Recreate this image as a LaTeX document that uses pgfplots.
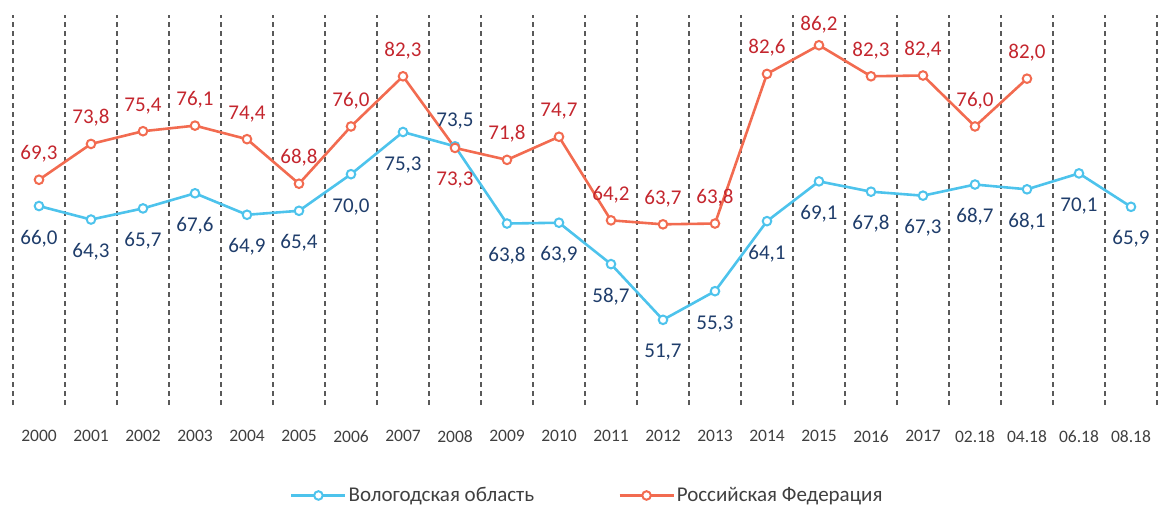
\documentclass[border=0pt]{standalone}
\usepackage{pgfplots}
\pgfplotsset{compat=1.18}
\usepackage{fontspec}
\setmainfont{Carlito}
\definecolor{lblue}{HTML}{4DC3EC}
\definecolor{lred}{HTML}{F26B50}
\definecolor{navy}{HTML}{1F3D6B}
\definecolor{dred}{HTML}{C4262E}
\definecolor{txt}{HTML}{404040}
\definecolor{gridc}{HTML}{595959}
\begin{document}
\begin{tikzpicture}
\useasboundingbox (0,0) rectangle (1159bp,508bp);
\begin{axis}[
  at={(13bp,103bp)}, anchor=south west,
  scale only axis, width=1144bp, height=390bp,
  xmin=-0.5, xmax=21.5, ymin=41, ymax=90,
  axis line style={draw=none},
  ytick=\empty,
  xtick={0,1,...,21},
  xticklabels={2000,2001,2002,2003,2004,2005,2006,2007,2008,2009,2010,2011,2012,2013,2014,2015,2016,2017,02.18,04.18,06.18,08.18},
  minor xtick={-0.5,0.5,...,21.5},
  xminorgrids,
  minor grid style={gridc, line width=1.1bp, dash pattern=on 5bp off 4bp},
  major tick length=0, minor tick length=0,
  xticklabel style={font=\fontsize{17.5bp}{21bp}\selectfont, text=txt, yshift=-22bp},
  clip=false,
  nodes near coords,
  every node near coord/.append style={font=\fontsize{21bp}{25bp}\selectfont, anchor=base, inner sep=0pt},
  /pgf/number format/fixed,
  /pgf/number format/fixed zerofill,
  /pgf/number format/precision=1,
  /pgf/number format/use comma,
  /pgf/number format/assume math mode=true,
  legend style={at={(0.502,-0.232)}, anchor=center, draw=none, fill=none,
    font=\fontsize{21bp}{25bp}\selectfont, text=txt, legend columns=2,
    /tikz/every even column/.append style={column sep=82bp}},
  legend image code/.code={\draw[#1, mark repeat=2, mark phase=2] plot coordinates {(0bp,0bp) (27bp,0bp) (54bp,0bp)};},
]
\addplot[lblue, line width=2.6bp, mark=*, mark size=4.3bp,
  mark options={fill=white, draw=lblue, line width=2bp, solid},
  nodes near coords style={text=navy, yshift=-38bp},
  coordinate style/.condition={\coordindex==8}{yshift=58bp}]
  coordinates {
  (0,66.0) (1,64.3) (2,65.7) (3,67.6) (4,64.9) (5,65.4) (6,70.0) (7,75.3)
  (8,73.5) (9,63.8) (10,63.9) (11,58.7) (12,51.7) (13,55.3) (14,64.1)
  (15,69.1) (16,67.8) (17,67.3) (18,68.7) (19,68.1) (20,70.1) (21,65.9)};
\addlegendentry{Вологодская область}
\addplot[lred, line width=2.6bp, mark=*, mark size=4.3bp,
  mark options={fill=white, draw=lred, line width=2bp, solid},
  nodes near coords style={text=dred, yshift=20bp},
  coordinate style/.condition={\coordindex==8}{yshift=-58bp},
  coordinate style/.condition={\coordindex==15}{yshift=-5bp}]
  coordinates {
  (0,69.3) (1,73.8) (2,75.4) (3,76.1) (4,74.4) (5,68.8) (6,76.0) (7,82.3)
  (8,73.3) (9,71.8) (10,74.7) (11,64.2) (12,63.7) (13,63.8) (14,82.6)
  (15,86.2) (16,82.3) (17,82.4) (18,76.0) (19,82.0)};
\addlegendentry{Российская Федерация}
\end{axis}
\end{tikzpicture}
\end{document}
